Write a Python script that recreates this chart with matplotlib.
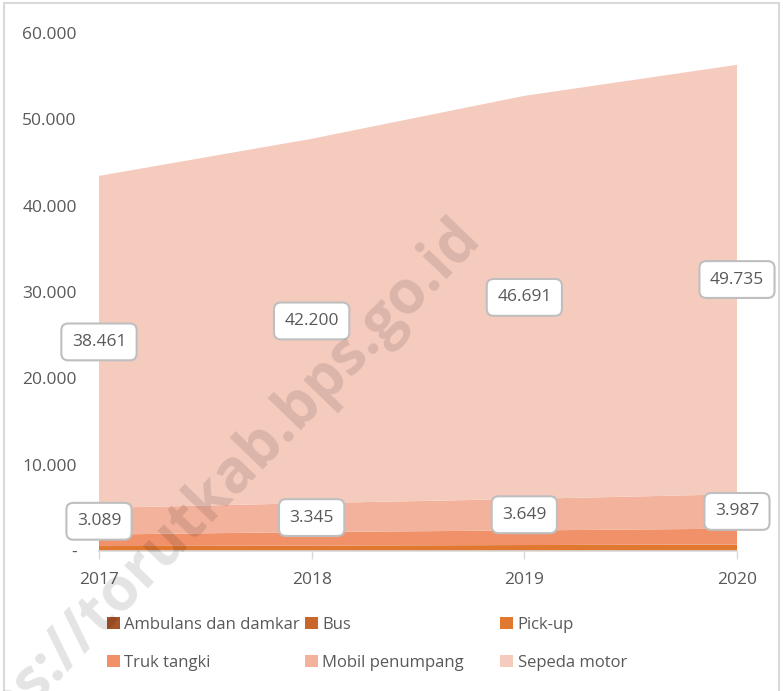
import matplotlib
matplotlib.use("Agg")
import matplotlib.pyplot as plt
from matplotlib.patches import Rectangle, Patch
import numpy as np

plt.rcParams['font.family'] = ['Open Sans', 'DejaVu Sans']

years = ["2017", "2018", "2019", "2020"]
series_names = ["Ambulans dan damkar", "Bus", "Pick-up", "Truk tangki",
                "Mobil penumpang", "Sepeda motor"]
ambulans = [10, 10, 10, 10]
bus = [60, 60, 60, 60]
pickup = [500, 560, 620, 680]
truk = [1330, 1570, 1690, 1840]
mobil = [3089, 3345, 3649, 3987]
sepeda = [38461, 42200, 46691, 49735]
colors = ["#A8542A", "#C9662A", "#E07830", "#F0916A", "#F3B29B", "#F5CBBE"]
yticks = [0, 10000, 20000, 30000, 40000, 50000, 60000]
ytick_labels = ["-", "10.000", "20.000", "30.000", "40.000", "50.000", "60.000"]

W, H = 783, 691
fig = plt.figure(figsize=(W / 100, H / 100), dpi=100)
ax = fig.add_axes([99 / W, 1 - 551 / H, (737 - 99) / W, (551 - 33) / H])

x = np.arange(len(years))
data = [ambulans, bus, pickup, truk, mobil, sepeda]
ax.stackplot(x, *data, colors=colors, labels=series_names, linewidth=0)

ax.set_xlim(0, len(years) - 1)
ax.set_ylim(0, 60000)
ax.set_xticks(x)
ax.set_xticklabels(years)
ax.set_yticks(yticks)
ax.set_yticklabels(ytick_labels)
tc = "#595959"
ax.tick_params(axis='y', length=0, pad=16, labelsize=12.5, labelcolor=tc)
ax.tick_params(axis='x', length=6, width=1, color="#D9D9D9", pad=9,
               labelsize=12.5, labelcolor=tc)
for s in ["top", "right", "left"]:
    ax.spines[s].set_visible(False)
ax.spines["bottom"].set_color("#D9D9D9")
ax.spines["bottom"].set_linewidth(1.2)
ax.spines["bottom"].set_zorder(5)

# data labels centered in layers
below = np.sum(np.array(data[:4]), axis=0)
box = dict(boxstyle="round,pad=0.6,rounding_size=0.4", fc="white",
           ec="#BFBFBF", lw=1.5)
for i in range(len(years)):
    ym = below[i] + mobil[i] / 2
    ys = below[i] + mobil[i] + sepeda[i] / 2
    for val, yy in ((mobil[i], ym), (sepeda[i], ys)):
        ax.text(i, yy, f"{val:,}".replace(",", "."), ha="center", va="center",
                fontsize=12.5, color=tc, bbox=box, zorder=6, clip_on=False)

# legend in three columns
cols = [(107, [0, 3]), (305, [1, 4]), (500, [2, 5])]
for xpos, idxs in cols:
    handles = [Patch(facecolor=colors[k], edgecolor='none', label=series_names[k]) for k in idxs]
    fig.legend(handles=handles, loc="upper left",
               bbox_to_anchor=(xpos / W, 1 - 617 / H), frameon=False,
               fontsize=12, labelcolor=tc, handlelength=0.75, handleheight=0.75,
               handletextpad=0.3, labelspacing=1.3, borderaxespad=0, borderpad=0)

# watermark
fig.text(470 / W, 1 - 228 / H, "https://torutkab.bps.go.id", rotation=46,
         rotation_mode="anchor", ha="right", va="center", fontsize=43,
         fontweight="bold", color="black", alpha=0.11, zorder=10)

# outer border
fig.patches.append(Rectangle((4 / W, -0.1), (779 - 4) / W, 1.1 - 3 / H,
                             transform=fig.transFigure, fill=False,
                             ec="#D9D9D9", lw=1.5))

fig.savefig("out.png", dpi=100)
